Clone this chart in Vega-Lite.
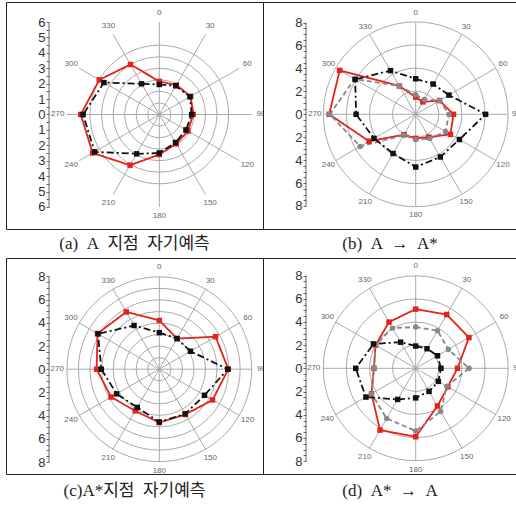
{
"$schema": "https://vega.github.io/schema/vega-lite/v6.json",
"padding": {"left": 5, "top": 1, "right": 0, "bottom": 0},
"spacing": 0,
"columns": 2,
"bounds": "flush",
"background": "white",
"config": {"view": {"stroke": "#222", "strokeWidth": 1}, "concat": {"spacing": 0}},
"datasets": {
"ang": [{"a":0},{"a":30},{"a":60},{"a":90},{"a":120},{"a":150},{"a":180},{"a":210},{"a":240},{"a":270},{"a":300},{"a":330}],
"s": [
{"p":"a","s":"obs","a":0,"r":2.15},{"p":"a","s":"obs","a":30,"r":2.2},{"p":"a","s":"obs","a":60,"r":2.35},{"p":"a","s":"obs","a":90,"r":2.2},{"p":"a","s":"obs","a":120,"r":2.15},{"p":"a","s":"obs","a":150,"r":2.2},{"p":"a","s":"obs","a":180,"r":2.6},{"p":"a","s":"obs","a":210,"r":3.8},{"p":"a","s":"obs","a":240,"r":5.0},{"p":"a","s":"obs","a":270,"r":5.1},{"p":"a","s":"obs","a":300,"r":4.5},{"p":"a","s":"obs","a":330,"r":3.75},
{"p":"a","s":"m1","a":0,"r":1.95},{"p":"a","s":"m1","a":30,"r":2.15},{"p":"a","s":"m1","a":60,"r":2.3},{"p":"a","s":"m1","a":90,"r":2.1},{"p":"a","s":"m1","a":120,"r":2.0},{"p":"a","s":"m1","a":150,"r":2.1},{"p":"a","s":"m1","a":180,"r":2.5},{"p":"a","s":"m1","a":210,"r":2.95},{"p":"a","s":"m1","a":240,"r":4.85},{"p":"a","s":"m1","a":270,"r":4.95},{"p":"a","s":"m1","a":300,"r":4.15},{"p":"a","s":"m1","a":330,"r":2.3},
{"p":"b","s":"obs","a":0,"r":1.5},{"p":"b","s":"obs","a":30,"r":1.25},{"p":"b","s":"obs","a":60,"r":2.4},{"p":"b","s":"obs","a":90,"r":3.3},{"p":"b","s":"obs","a":120,"r":3.5},{"p":"b","s":"obs","a":150,"r":2.3},{"p":"b","s":"obs","a":180,"r":2.1},{"p":"b","s":"obs","a":210,"r":2.05},{"p":"b","s":"obs","a":240,"r":4.7},{"p":"b","s":"obs","a":270,"r":7.55},{"p":"b","s":"obs","a":300,"r":7.66},{"p":"b","s":"obs","a":330,"r":2.85},
{"p":"b","s":"m2","a":0,"r":1.7},{"p":"b","s":"m2","a":30,"r":1.5},{"p":"b","s":"m2","a":60,"r":2.4},{"p":"b","s":"m2","a":90,"r":2.9},{"p":"b","s":"m2","a":120,"r":3.0},{"p":"b","s":"m2","a":150,"r":2.45},{"p":"b","s":"m2","a":180,"r":2.2},{"p":"b","s":"m2","a":210,"r":2.1},{"p":"b","s":"m2","a":240,"r":5.6},{"p":"b","s":"m2","a":270,"r":7.5},{"p":"b","s":"m2","a":300,"r":6.15},{"p":"b","s":"m2","a":330,"r":2.85},
{"p":"b","s":"m1","a":0,"r":3.1},{"p":"b","s":"m1","a":30,"r":3.05},{"p":"b","s":"m1","a":60,"r":3.35},{"p":"b","s":"m1","a":90,"r":6.1},{"p":"b","s":"m1","a":120,"r":4.4},{"p":"b","s":"m1","a":150,"r":4.3},{"p":"b","s":"m1","a":180,"r":4.6},{"p":"b","s":"m1","a":210,"r":3.95},{"p":"b","s":"m1","a":240,"r":4.2},{"p":"b","s":"m1","a":270,"r":5.2},{"p":"b","s":"m1","a":300,"r":6.1},{"p":"b","s":"m1","a":330,"r":4.4},
{"p":"c","s":"obs","a":0,"r":4.2},{"p":"c","s":"obs","a":30,"r":3.05},{"p":"c","s":"obs","a":60,"r":5.6},{"p":"c","s":"obs","a":90,"r":5.95},{"p":"c","s":"obs","a":120,"r":5.3},{"p":"c","s":"obs","a":150,"r":4.5},{"p":"c","s":"obs","a":180,"r":4.6},{"p":"c","s":"obs","a":210,"r":4.15},{"p":"c","s":"obs","a":240,"r":4.8},{"p":"c","s":"obs","a":270,"r":5.4},{"p":"c","s":"obs","a":300,"r":6.15},{"p":"c","s":"obs","a":330,"r":5.7},
{"p":"c","s":"m1","a":0,"r":3.15},{"p":"c","s":"m1","a":30,"r":3.05},{"p":"c","s":"m1","a":60,"r":3.1},{"p":"c","s":"m1","a":90,"r":5.9},{"p":"c","s":"m1","a":120,"r":4.5},{"p":"c","s":"m1","a":150,"r":4.45},{"p":"c","s":"m1","a":180,"r":4.55},{"p":"c","s":"m1","a":210,"r":3.8},{"p":"c","s":"m1","a":240,"r":4.25},{"p":"c","s":"m1","a":270,"r":5.0},{"p":"c","s":"m1","a":300,"r":6.1},{"p":"c","s":"m1","a":330,"r":4.35},
{"p":"d","s":"obs","a":0,"r":5.1},{"p":"d","s":"obs","a":30,"r":5.35},{"p":"d","s":"obs","a":60,"r":5.3},{"p":"d","s":"obs","a":90,"r":3.6},{"p":"d","s":"obs","a":120,"r":3.2},{"p":"d","s":"obs","a":150,"r":3.75},{"p":"d","s":"obs","a":180,"r":5.9},{"p":"d","s":"obs","a":210,"r":6.15},{"p":"d","s":"obs","a":240,"r":4.4},{"p":"d","s":"obs","a":270,"r":3.6},{"p":"d","s":"obs","a":300,"r":4.0},{"p":"d","s":"obs","a":330,"r":4.6},
{"p":"d","s":"m2","a":0,"r":3.56},{"p":"d","s":"m2","a":30,"r":3.75},{"p":"d","s":"m2","a":60,"r":3.25},{"p":"d","s":"m2","a":90,"r":4.6},{"p":"d","s":"m2","a":120,"r":3.1},{"p":"d","s":"m2","a":150,"r":4.3},{"p":"d","s":"m2","a":180,"r":5.4},{"p":"d","s":"m2","a":210,"r":5.0},{"p":"d","s":"m2","a":240,"r":4.4},{"p":"d","s":"m2","a":270,"r":3.6},{"p":"d","s":"m2","a":300,"r":4.0},{"p":"d","s":"m2","a":330,"r":4.0},
{"p":"d","s":"m1","a":0,"r":1.92},{"p":"d","s":"m1","a":30,"r":1.95},{"p":"d","s":"m1","a":60,"r":2.17},{"p":"d","s":"m1","a":90,"r":2.18},{"p":"d","s":"m1","a":120,"r":2.25},{"p":"d","s":"m1","a":150,"r":2.3},{"p":"d","s":"m1","a":180,"r":2.55},{"p":"d","s":"m1","a":210,"r":3.1},{"p":"d","s":"m1","a":240,"r":4.96},{"p":"d","s":"m1","a":270,"r":5.17},{"p":"d","s":"m1","a":300,"r":4.2},{"p":"d","s":"m1","a":330,"r":2.6}
]
},
"concat": [
{"width": 257, "height": 227,
 "encoding": {
  "x": {"field": "x", "type": "quantitative", "scale": {"domain": [-9.955, 6.734], "nice": false, "zero": false}, "axis": null},
  "y": {"field": "y", "type": "quantitative", "scale": {"domain": [-7.435, 7.305], "nice": false, "zero": false},
   "axis": {"title": null, "offset": -43, "domain": false, "grid": false, "ticks": true,
    "values": [-6,-5.5,-5,-4.5,-4,-3.5,-3,-2.5,-2,-1.5,-1,-0.5,0,0.5,1,1.5,2,2.5,3,3.5,4,4.5,5,5.5,6],
    "labelExpr": "datum.value % 1 == 0 ? format(abs(datum.value), 'd') : ''",
    "labelFontSize": 13, "labelColor": "#333", "labelFont": "Liberation Sans", "labelPadding": 1,
    "labelOverlap": false, "labelBound": false, "labelFlush": false,
    "tickColor": "#666", "tickWidth": 1, "tickSize": 3}}
 },
 "layer": [
  {"data": {"values": [{"r":1},{"r":2},{"r":3},{"r":4},{"r":5},{"r":6}]},
   "transform": [{"calculate": "0", "as": "x"}, {"calculate": "0", "as": "y"}],
   "mark": {"type": "point", "shape": "circle", "filled": false, "color": "#a0a0a0", "strokeWidth": 0.9, "opacity": 1},
   "encoding": {"size": {"field": "r", "type": "quantitative", "scale": {"type": "pow", "exponent": 2, "zero": true, "nice": false, "domain": [0, 6], "range": [0, 34151]}, "legend": null}}},
  {"data": {"name": "ang"},
   "transform": [{"calculate": "0", "as": "x"}, {"calculate": "0", "as": "y"}, {"calculate": "6*sin(datum.a*PI/180)", "as": "x2"}, {"calculate": "6*cos(datum.a*PI/180)", "as": "y2"}],
   "mark": {"type": "rule", "color": "#a0a0a0", "strokeWidth": 0.9},
   "encoding": {"x2": {"field": "x2"}, "y2": {"field": "y2"}}},
  {"data": {"name": "ang"},
   "transform": [{"filter": "datum.a == 0"}, {"calculate": "-7.163", "as": "x"}, {"calculate": "-6", "as": "y"}, {"calculate": "-7.163", "as": "x2"}, {"calculate": "6", "as": "y2"}],
   "mark": {"type": "rule", "color": "#666", "strokeWidth": 1},
   "encoding": {"x2": {"field": "x2"}, "y2": {"field": "y2"}}},
  {"data": {"name": "ang"},
   "transform": [{"calculate": "6.6*sin(datum.a*PI/180)", "as": "x"}, {"calculate": "6.6*cos(datum.a*PI/180)", "as": "y"}],
   "mark": {"type": "text", "fontSize": 8, "color": "#666", "font": "Liberation Sans", "clip": true},
   "encoding": {"text": {"field": "a", "type": "nominal"}}},
  {"data": {"name": "s"},
   "transform": [{"filter": "datum.p == 'a'"}, {"calculate": "datum.r*sin(datum.a*PI/180)", "as": "x"}, {"calculate": "datum.r*cos(datum.a*PI/180)", "as": "y"}],
   "layer": [
    {"mark": {"type": "line", "interpolate": "linear-closed", "strokeWidth": 1.8},
     "encoding": {
      "color": {"field": "s", "type": "nominal", "scale": {"domain": ["m1", "m2", "obs"], "range": ["#111111", "#888888", "#e3221c"]}, "legend": null},
      "strokeDash": {"field": "s", "type": "nominal", "scale": {"domain": ["m1", "m2", "obs"], "range": [[7,3,2,3],[5,3],[1,0]]}, "legend": null},
      "order": {"field": "a", "type": "quantitative"}}},
    {"mark": {"type": "point", "filled": true, "size": 30, "opacity": 1},
     "encoding": {
      "color": {"field": "s", "type": "nominal", "scale": {"domain": ["m1", "m2", "obs"], "range": ["#111111", "#888888", "#e3221c"]}, "legend": null},
      "shape": {"field": "s", "type": "nominal", "scale": {"domain": ["m1", "m2", "obs"], "range": ["square", "circle", "square"]}, "legend": null}}}
   ]}
 ]},
{"width": 254, "height": 227,
 "encoding": {
  "x": {"field": "x", "type": "quantitative", "scale": {"domain": [-13.325, 8.839], "nice": false, "zero": false}, "axis": null},
  "y": {"field": "y", "type": "quantitative", "scale": {"domain": [-10.009, 9.799], "nice": false, "zero": false},
   "axis": {"title": null, "offset": -43, "domain": false, "grid": false, "ticks": true,
    "values": [-8,-7.5,-7,-6.5,-6,-5.5,-5,-4.5,-4,-3.5,-3,-2.5,-2,-1.5,-1,-0.5,0,0.5,1,1.5,2,2.5,3,3.5,4,4.5,5,5.5,6,6.5,7,7.5,8],
    "labelExpr": "datum.value % 2 == 0 ? format(abs(datum.value), 'd') : ''",
    "labelFontSize": 13, "labelColor": "#333", "labelFont": "Liberation Sans", "labelPadding": 1,
    "labelOverlap": false, "labelBound": false, "labelFlush": false,
    "tickColor": "#666", "tickWidth": 1, "tickSize": 3}}
 },
 "layer": [
  {"data": {"values": [{"r":2},{"r":4},{"r":6},{"r":8}]},
   "transform": [{"calculate": "0", "as": "x"}, {"calculate": "0", "as": "y"}],
   "mark": {"type": "point", "shape": "circle", "filled": false, "color": "#a0a0a0", "strokeWidth": 0.9, "opacity": 1},
   "encoding": {"size": {"field": "r", "type": "quantitative", "scale": {"type": "pow", "exponent": 2, "zero": true, "nice": false, "domain": [0, 8], "range": [0, 33621]}, "legend": null}}},
  {"data": {"name": "ang"},
   "transform": [{"calculate": "0", "as": "x"}, {"calculate": "0", "as": "y"}, {"calculate": "8*sin(datum.a*PI/180)", "as": "x2"}, {"calculate": "8*cos(datum.a*PI/180)", "as": "y2"}],
   "mark": {"type": "rule", "color": "#a0a0a0", "strokeWidth": 0.9},
   "encoding": {"x2": {"field": "x2"}, "y2": {"field": "y2"}}},
  {"data": {"name": "ang"},
   "transform": [{"filter": "datum.a == 0"}, {"calculate": "-9.573", "as": "x"}, {"calculate": "-8", "as": "y"}, {"calculate": "-9.573", "as": "x2"}, {"calculate": "8", "as": "y2"}],
   "mark": {"type": "rule", "color": "#666", "strokeWidth": 1},
   "encoding": {"x2": {"field": "x2"}, "y2": {"field": "y2"}}},
  {"data": {"name": "ang"},
   "transform": [{"calculate": "8.8*sin(datum.a*PI/180)", "as": "x"}, {"calculate": "8.8*cos(datum.a*PI/180)", "as": "y"}],
   "mark": {"type": "text", "fontSize": 8, "color": "#666", "font": "Liberation Sans", "clip": true},
   "encoding": {"text": {"field": "a", "type": "nominal"}}},
  {"data": {"name": "s"},
   "transform": [{"filter": "datum.p == 'b'"}, {"calculate": "datum.r*sin(datum.a*PI/180)", "as": "x"}, {"calculate": "datum.r*cos(datum.a*PI/180)", "as": "y"}],
   "layer": [
    {"mark": {"type": "line", "interpolate": "linear-closed", "strokeWidth": 1.8},
     "encoding": {
      "color": {"field": "s", "type": "nominal", "scale": {"domain": ["m1", "m2", "obs"], "range": ["#111111", "#888888", "#e3221c"]}, "legend": null},
      "strokeDash": {"field": "s", "type": "nominal", "scale": {"domain": ["m1", "m2", "obs"], "range": [[7,3,2,3],[5,3],[1,0]]}, "legend": null},
      "order": {"field": "a", "type": "quantitative"}}},
    {"mark": {"type": "point", "filled": true, "size": 30, "opacity": 1},
     "encoding": {
      "color": {"field": "s", "type": "nominal", "scale": {"domain": ["m1", "m2", "obs"], "range": ["#111111", "#888888", "#e3221c"]}, "legend": null},
      "shape": {"field": "s", "type": "nominal", "scale": {"domain": ["m1", "m2", "obs"], "range": ["triangle-up", "circle", "circle"]}, "legend": null}}}
   ]}
 ]},
 {"width": 257, "height": 29, "data": {"values": [{"t": "(a)\u2002A\u2002지점\u2002자기예측"}]},
  "mark": {"type": "text", "font": "Liberation Serif, Noto Sans CJK KR", "fontSize": 17, "color": "#222"},
  "encoding": {"text": {"field": "t"}}},
 {"width": 254, "height": 29, "data": {"values": [{"t": "(b)\u2002A\u2002→\u2002A*"}]},
  "mark": {"type": "text", "font": "Liberation Serif, Noto Sans CJK KR", "fontSize": 17, "color": "#222"},
  "encoding": {"text": {"field": "t"}}},
{"width": 257, "height": 216,
 "encoding": {
  "x": {"field": "x", "type": "quantitative", "scale": {"domain": [-13.216, 8.940], "nice": false, "zero": false}, "axis": null},
  "y": {"field": "y", "type": "quantitative", "scale": {"domain": [-9.034, 9.586], "nice": false, "zero": false},
   "axis": {"title": null, "offset": -43, "domain": false, "grid": false, "ticks": true,
    "values": [-8,-7.5,-7,-6.5,-6,-5.5,-5,-4.5,-4,-3.5,-3,-2.5,-2,-1.5,-1,-0.5,0,0.5,1,1.5,2,2.5,3,3.5,4,4.5,5,5.5,6,6.5,7,7.5,8],
    "labelExpr": "datum.value % 2 == 0 ? format(abs(datum.value), 'd') : ''",
    "labelFontSize": 13, "labelColor": "#333", "labelFont": "Liberation Sans", "labelPadding": 1,
    "labelOverlap": false, "labelBound": false, "labelFlush": false,
    "tickColor": "#666", "tickWidth": 1, "tickSize": 3}}
 },
 "layer": [
  {"data": {"values": [{"r":1},{"r":2},{"r":3},{"r":4},{"r":5},{"r":6},{"r":7},{"r":8}]},
   "transform": [{"calculate": "0", "as": "x"}, {"calculate": "0", "as": "y"}],
   "mark": {"type": "point", "shape": "circle", "filled": false, "color": "#a0a0a0", "strokeWidth": 0.9, "opacity": 1},
   "encoding": {"size": {"field": "r", "type": "quantitative", "scale": {"type": "pow", "exponent": 2, "zero": true, "nice": false, "domain": [0, 8], "range": [0, 34447]}, "legend": null}}},
  {"data": {"name": "ang"},
   "transform": [{"calculate": "0", "as": "x"}, {"calculate": "0", "as": "y"}, {"calculate": "8*sin(datum.a*PI/180)", "as": "x2"}, {"calculate": "8*cos(datum.a*PI/180)", "as": "y2"}],
   "mark": {"type": "rule", "color": "#a0a0a0", "strokeWidth": 0.9},
   "encoding": {"x2": {"field": "x2"}, "y2": {"field": "y2"}}},
  {"data": {"name": "ang"},
   "transform": [{"filter": "datum.a == 0"}, {"calculate": "-9.509", "as": "x"}, {"calculate": "-8", "as": "y"}, {"calculate": "-9.509", "as": "x2"}, {"calculate": "8", "as": "y2"}],
   "mark": {"type": "rule", "color": "#666", "strokeWidth": 1},
   "encoding": {"x2": {"field": "x2"}, "y2": {"field": "y2"}}},
  {"data": {"name": "ang"},
   "transform": [{"calculate": "8.8*sin(datum.a*PI/180)", "as": "x"}, {"calculate": "8.8*cos(datum.a*PI/180)", "as": "y"}],
   "mark": {"type": "text", "fontSize": 8, "color": "#666", "font": "Liberation Sans", "clip": true},
   "encoding": {"text": {"field": "a", "type": "nominal"}}},
  {"data": {"name": "s"},
   "transform": [{"filter": "datum.p == 'c'"}, {"calculate": "datum.r*sin(datum.a*PI/180)", "as": "x"}, {"calculate": "datum.r*cos(datum.a*PI/180)", "as": "y"}],
   "layer": [
    {"mark": {"type": "line", "interpolate": "linear-closed", "strokeWidth": 1.8},
     "encoding": {
      "color": {"field": "s", "type": "nominal", "scale": {"domain": ["m1", "m2", "obs"], "range": ["#111111", "#888888", "#e3221c"]}, "legend": null},
      "strokeDash": {"field": "s", "type": "nominal", "scale": {"domain": ["m1", "m2", "obs"], "range": [[7,3,2,3],[5,3],[1,0]]}, "legend": null},
      "order": {"field": "a", "type": "quantitative"}}},
    {"mark": {"type": "point", "filled": true, "size": 30, "opacity": 1},
     "encoding": {
      "color": {"field": "s", "type": "nominal", "scale": {"domain": ["m1", "m2", "obs"], "range": ["#111111", "#888888", "#e3221c"]}, "legend": null},
      "shape": {"field": "s", "type": "nominal", "scale": {"domain": ["m1", "m2", "obs"], "range": ["square", "circle", "square"]}, "legend": null}}}
   ]}
 ]},
{"width": 254, "height": 216,
 "encoding": {
  "x": {"field": "x", "type": "quantitative", "scale": {"domain": [-13.164, 8.733], "nice": false, "zero": false}, "axis": null},
  "y": {"field": "y", "type": "quantitative", "scale": {"domain": [-9.112, 9.509], "nice": false, "zero": false},
   "axis": {"title": null, "offset": -43, "domain": false, "grid": false, "ticks": true,
    "values": [-8,-7.5,-7,-6.5,-6,-5.5,-5,-4.5,-4,-3.5,-3,-2.5,-2,-1.5,-1,-0.5,0,0.5,1,1.5,2,2.5,3,3.5,4,4.5,5,5.5,6,6.5,7,7.5,8],
    "labelExpr": "datum.value % 2 == 0 ? format(abs(datum.value), 'd') : ''",
    "labelFontSize": 13, "labelColor": "#333", "labelFont": "Liberation Sans", "labelPadding": 1,
    "labelOverlap": false, "labelBound": false, "labelFlush": false,
    "tickColor": "#666", "tickWidth": 1, "tickSize": 3}}
 },
 "layer": [
  {"data": {"values": [{"r":2},{"r":4},{"r":6},{"r":8}]},
   "transform": [{"calculate": "0", "as": "x"}, {"calculate": "0", "as": "y"}],
   "mark": {"type": "point", "shape": "circle", "filled": false, "color": "#a0a0a0", "strokeWidth": 0.9, "opacity": 1},
   "encoding": {"size": {"field": "r", "type": "quantitative", "scale": {"type": "pow", "exponent": 2, "zero": true, "nice": false, "domain": [0, 8], "range": [0, 34447]}, "legend": null}}},
  {"data": {"name": "ang"},
   "transform": [{"calculate": "0", "as": "x"}, {"calculate": "0", "as": "y"}, {"calculate": "8*sin(datum.a*PI/180)", "as": "x2"}, {"calculate": "8*cos(datum.a*PI/180)", "as": "y2"}],
   "mark": {"type": "rule", "color": "#a0a0a0", "strokeWidth": 0.9},
   "encoding": {"x2": {"field": "x2"}, "y2": {"field": "y2"}}},
  {"data": {"name": "ang"},
   "transform": [{"filter": "datum.a == 0"}, {"calculate": "-9.457", "as": "x"}, {"calculate": "-8", "as": "y"}, {"calculate": "-9.457", "as": "x2"}, {"calculate": "8", "as": "y2"}],
   "mark": {"type": "rule", "color": "#666", "strokeWidth": 1},
   "encoding": {"x2": {"field": "x2"}, "y2": {"field": "y2"}}},
  {"data": {"name": "ang"},
   "transform": [{"calculate": "8.8*sin(datum.a*PI/180)", "as": "x"}, {"calculate": "8.8*cos(datum.a*PI/180)", "as": "y"}],
   "mark": {"type": "text", "fontSize": 8, "color": "#666", "font": "Liberation Sans", "clip": true},
   "encoding": {"text": {"field": "a", "type": "nominal"}}},
  {"data": {"name": "s"},
   "transform": [{"filter": "datum.p == 'd'"}, {"calculate": "datum.r*sin(datum.a*PI/180)", "as": "x"}, {"calculate": "datum.r*cos(datum.a*PI/180)", "as": "y"}],
   "layer": [
    {"mark": {"type": "line", "interpolate": "linear-closed", "strokeWidth": 1.8},
     "encoding": {
      "color": {"field": "s", "type": "nominal", "scale": {"domain": ["m1", "m2", "obs"], "range": ["#111111", "#888888", "#e3221c"]}, "legend": null},
      "strokeDash": {"field": "s", "type": "nominal", "scale": {"domain": ["m1", "m2", "obs"], "range": [[7,3,2,3],[5,3],[1,0]]}, "legend": null},
      "order": {"field": "a", "type": "quantitative"}}},
    {"mark": {"type": "point", "filled": true, "size": 30, "opacity": 1},
     "encoding": {
      "color": {"field": "s", "type": "nominal", "scale": {"domain": ["m1", "m2", "obs"], "range": ["#111111", "#888888", "#e3221c"]}, "legend": null},
      "shape": {"field": "s", "type": "nominal", "scale": {"domain": ["m1", "m2", "obs"], "range": ["triangle-up", "circle", "square"]}, "legend": null}}}
   ]}
 ]},
 {"width": 257, "height": 34, "data": {"values": [{"t": "(c)A*지점\u2002자기예측"}]},
  "mark": {"type": "text", "font": "Liberation Serif, Noto Sans CJK KR", "fontSize": 17, "color": "#222"},
  "encoding": {"text": {"field": "t"}}},
 {"width": 254, "height": 34, "data": {"values": [{"t": "(d)\u2002A*\u2002→\u2002A"}]},
  "mark": {"type": "text", "font": "Liberation Serif, Noto Sans CJK KR", "fontSize": 17, "color": "#222"},
  "encoding": {"text": {"field": "t"}}}
]
}
